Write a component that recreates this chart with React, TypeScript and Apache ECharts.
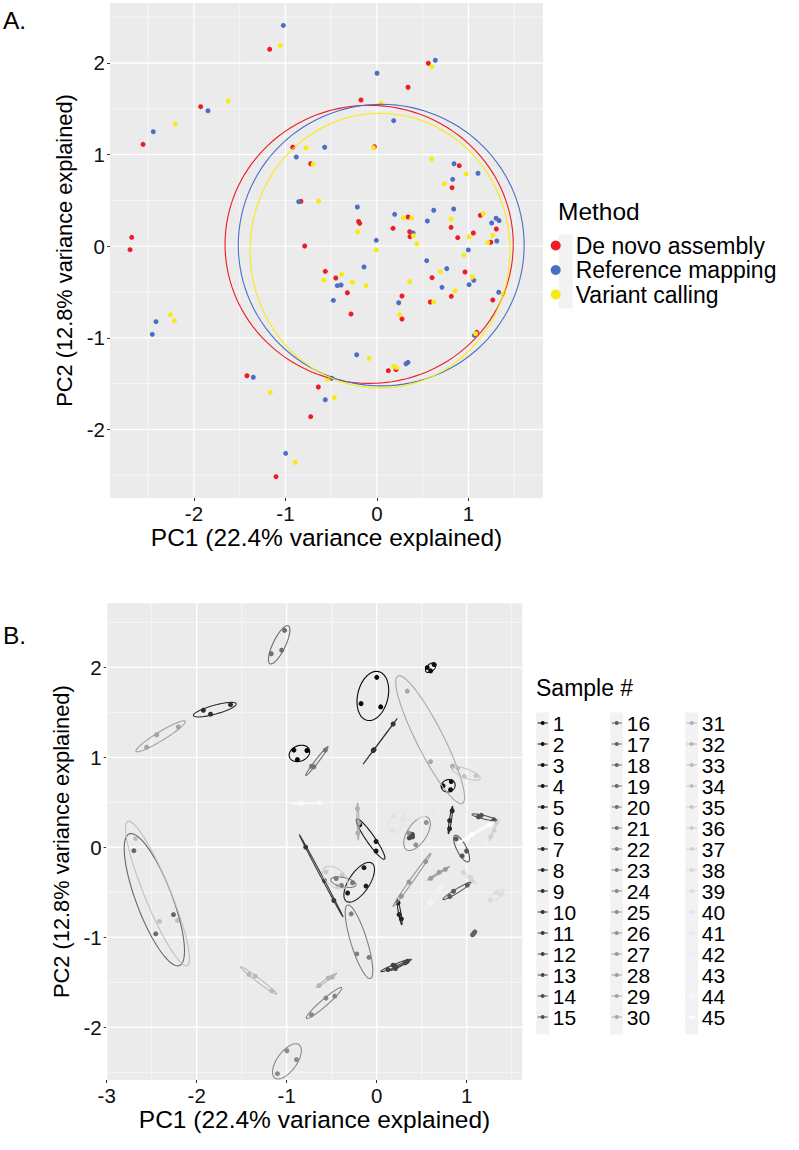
import React, { useEffect, useRef } from "react";
import * as echarts from "echarts";

const FONT = "'Liberation Sans', Arial, Helvetica, sans-serif";

// Method names and colours (panel A)
const methods = ["De novo assembly", "Reference mapping", "Variant calling"];
const methodColors = ["#EE1C25", "#4C6EC5", "#F6EB14"];

// Sample ids (panel B)
const sampleIds = [
  "1", "2", "3", "4", "5", "6", "7", "8", "9", "10", "11", "12", "13", "14", "15",
  "16", "17", "18", "19", "20", "21", "22", "23", "24", "25", "26", "27", "28", "29", "30",
  "31", "32", "33", "34", "35", "36", "37", "38", "39", "40", "41", "42", "43", "44", "45",
];

// PC1 / PC2 scores per sample, one list per method (index = sample - 1)
const deNovo = [
  [-0.92, 1.08], [-0.174, 1.596], [0.562, 1.997], [0.821, 0.639], [-0.188, 0.25],
  [-0.323, -0.508], [0.274, -0.795], [0.81, 0.206], [-1.926, 1.523], [-0.028, 1.086],
  [-0.789, 0.002], [0.125, -1.359], [0.209, -1.348], [0.362, 0.104], [1.13, 0.337],
  [0.883, 0.093], [0.813, -0.547], [1.091, -0.94], [-2.698, -0.038], [-1.172, 2.15],
  [-0.724, 0.9], [-0.45, -0.347], [-0.283, -0.74], [-0.724, -1.861], [-1.103, -2.516],
  [0.358, 0.158], [0.274, -0.544], [0.602, -0.344], [-2.556, 1.112], [0.34, 1.735],
  [-0.2, 0.27], [-0.64, -1.537], [-1.42, -1.414], [-2.68, 0.097], [0.9, 0.879],
  [-0.564, -0.274], [1.305, 0.188], [0.963, -0.282], [1.266, -0.587], [0.176, 0.195],
  [0.34, 0.319], [1.244, 0.043], [0.584, -0.609], [-0.83, 0.49], [1.054, 0.144],
];
const refMap = [
  [-0.881, 0.974], [0.001, 1.888], [0.638, 2.03], [0.828, 0.73], [-0.007, 0.064],
  [-0.141, -0.227], [0.238, -0.617], [0.839, 0.406], [-1.846, 1.479], [0.183, 1.37],
  [-0.476, -0.591], [0.34, -1.268], [0.318, -1.283], [0.395, 0.144], [1.302, 0.305],
  [0.999, -0.041], [1.007, -0.42], [1.065, -0.973], [-2.455, -0.962], [-1.023, 2.41],
  [-0.571, 1.08], [-0.392, -0.424], [-0.221, -1.185], [-0.564, -1.676], [-0.997, -2.261],
  [0.551, 0.275], [0.544, -0.158], [0.763, -0.245], [-2.444, 1.25], [0.843, 0.9],
  [-0.214, 0.428], [-0.494, -1.442], [-1.351, -1.431], [-2.414, -0.824], [1.105, 0.796],
  [-0.433, -0.431], [1.335, 0.279], [1.058, -0.372], [1.331, -0.503], [0.194, 0.348],
  [0.621, 0.392], [1.31, 0.057], [0.711, -0.449], [-0.855, 0.486], [1.254, 0.253],
];
const varCall = [
  [-0.775, 1.075], [0.045, 1.56], [0.599, 1.96], [0.737, 0.682], [-0.007, -0.041],
  [-0.119, -0.431], [0.249, -0.748], [0.81, 0.297], [-1.624, 1.585], [-0.039, 1.075],
  [-0.581, -0.37], [0.183, -1.311], [0.216, -1.326], [0.398, 0.115], [1.163, 0.355],
  [0.949, -0.096], [0.854, -0.489], [1.08, -0.955], [-2.258, -0.748], [-1.056, 2.19],
  [-0.698, 0.894], [-0.269, -0.394], [-0.086, -1.224], [-0.466, -1.654], [-0.892, -2.359],
  [0.435, 0.027], [0.358, -0.387], [0.693, -0.278], [-2.203, 1.337], [0.599, 0.952],
  [-0.21, 0.158], [-0.538, -1.453], [-1.165, -1.595], [-2.214, -0.813], [0.974, 0.788],
  [-0.385, -0.307], [1.266, 0.119], [1.043, -0.336], [1.382, -0.522], [0.289, 0.311],
  [0.38, 0.305], [1.211, 0.043], [0.62, -0.609], [-0.636, 0.493], [1.007, 0.1],
];
const methodScores = [deNovo, refMap, varCall];

// Panel A method ellipses (centre x, centre y, radius x, radius y)
const ellCx = [-0.085, 0.047, 0.034];
const ellCy = [0.02, 0.012, -0.049];
const ellRx = [1.575, 1.562, 1.421];
const ellRy = [1.518, 1.537, 1.5];

// Axis ticks and grid lines
const xTicksA = [-2, -1, 0, 1];
const xTicksB = [-3, -2, -1, 0, 1];
const yTicks = [-2, -1, 0, 1, 2];
const xMinor = [-2.5, -1.5, -0.5, 0.5, 1.5];
const yMinor = [-2.5, -1.5, -0.5, 0.5, 1.5, 2.5];

const ELLIPSE_K = 1.52;

function grayOf(i: number) {
  const v = Math.round((i / 44) * 255);
  return `rgb(${v},${v},${v})`;
}

function ellipseFromPoints(pts: number[][], k: number) {
  const n = pts.length;
  let mx = 0, my = 0;
  pts.forEach((p) => { mx += p[0]; my += p[1]; });
  mx /= n; my /= n;
  let sxx = 0, syy = 0, sxy = 0;
  pts.forEach((p) => {
    const dx = p[0] - mx, dy = p[1] - my;
    sxx += dx * dx; syy += dy * dy; sxy += dx * dy;
  });
  sxx /= n - 1; syy /= n - 1; sxy /= n - 1;
  const tr = sxx + syy, det = sxx * syy - sxy * sxy;
  const disc = Math.sqrt(Math.max(0, (tr * tr) / 4 - det));
  const l1 = tr / 2 + disc, l2 = Math.max(0, tr / 2 - disc);
  let vx: number, vy: number;
  if (Math.abs(sxy) > 1e-12) { vx = l1 - syy; vy = sxy; }
  else if (sxx >= syy) { vx = 1; vy = 0; } else { vx = 0; vy = 1; }
  const nn = Math.hypot(vx, vy); vx /= nn; vy /= nn;
  const out: number[][] = [];
  for (let j = 0; j <= 90; j++) {
    const t = (2 * Math.PI * j) / 90;
    const a = k * Math.sqrt(l1) * Math.cos(t);
    const b = k * Math.sqrt(l2) * Math.sin(t);
    out.push([mx + a * vx - b * vy, my + a * vy + b * vx]);
  }
  return out;
}

function gridLineSeries(gridIdx: number, xMajor: number[]) {
  const data: number[][] = [];
  xMajor.forEach((v) => data.push([v, 0]));
  xMinor.forEach((v) => data.push([v, 1]));
  yTicks.forEach((v) => data.push([v, 2]));
  yMinor.forEach((v) => data.push([v, 3]));
  return {
    type: "custom",
    xAxisIndex: gridIdx,
    yAxisIndex: gridIdx,
    silent: true,
    z: 1,
    clip: false,
    dimensions: ["v", "kind"],
    data,
    renderItem: (params: any, api: any) => {
      const cs = params.coordSys;
      const v = api.value(0);
      const kind = api.value(1);
      const major = kind === 0 || kind === 2;
      const style = { stroke: "#FFFFFF", lineWidth: major ? 1.3 : 0.6 };
      if (kind < 2) {
        const x = api.coord([v, 0])[0];
        if (x < cs.x - 0.5 || x > cs.x + cs.width + 0.5) return null;
        return { type: "line", shape: { x1: x, y1: cs.y, x2: x, y2: cs.y + cs.height }, style };
      }
      const y = api.coord([0, v])[1];
      if (y < cs.y - 0.5 || y > cs.y + cs.height + 0.5) return null;
      return { type: "line", shape: { x1: cs.x, y1: y, x2: cs.x + cs.width, y2: y }, style };
    },
  };
}

function makeAxis(gridIndex: number, min: number, max: number, ticks: number[], name: string, isX: boolean) {
  return {
    type: "value",
    gridIndex,
    min,
    max,
    name,
    nameLocation: "middle",
    nameGap: isX ? 25 : 27,
    nameTextStyle: { fontSize: isX ? 24.5 : 21.8, color: "#000", fontFamily: FONT },
    axisLine: { show: false, onZero: false },
    axisTick: { show: true, length: 3, lineStyle: { color: "#333", width: 1 }, customValues: ticks },
    axisLabel: { customValues: ticks, fontSize: 20.5, color: "#111", margin: 5, fontFamily: FONT },
    splitLine: { show: false },
    minorSplitLine: { show: false },
  };
}

const B_ICON = "path://M0,4.6H10V5.4H0Z M7,5A2,2,0,1,1,3,5A2,2,0,1,1,7,5Z";

export default function App() {
  const ref = useRef<HTMLDivElement>(null);
  useEffect(() => {
    if (!ref.current) return;
    const chart = echarts.init(ref.current, undefined, { renderer: "svg" });

    const series: any[] = [];
    series.push(gridLineSeries(0, xTicksA));
    series.push(gridLineSeries(1, xTicksB));

    // Panel A points
    methods.forEach((m, i) => {
      series.push({
        type: "scatter",
        name: m,
        xAxisIndex: 0,
        yAxisIndex: 0,
        data: methodScores[i],
        symbolSize: 5,
        itemStyle: { color: methodColors[i], opacity: 1 },
        z: 3,
        clip: true,
      });
    });
    // Panel A ellipses
    series.push({
      type: "custom",
      xAxisIndex: 0,
      yAxisIndex: 0,
      silent: true,
      z: 4,
      clip: true,
      data: methods.map((_, i) => [ellCx[i], ellCy[i], ellRx[i], ellRy[i], i]),
      renderItem: (params: any, api: any) => {
        const cx = api.value(0), cy = api.value(1), rx = api.value(2), ry = api.value(3);
        const idx = api.value(4);
        const pts: number[][] = [];
        for (let j = 0; j <= 120; j++) {
          const t = (2 * Math.PI * j) / 120;
          pts.push(api.coord([cx + rx * Math.cos(t), cy + ry * Math.sin(t)]));
        }
        return { type: "polyline", shape: { points: pts }, style: { stroke: methodColors[idx], lineWidth: 1.1, fill: null } };
      },
    });

    // Panel B points, one series per sample
    sampleIds.forEach((s, i) => {
      series.push({
        type: "scatter",
        name: s,
        xAxisIndex: 1,
        yAxisIndex: 1,
        data: [deNovo[i], refMap[i], varCall[i]],
        symbolSize: 5,
        itemStyle: { color: grayOf(i), opacity: 1 },
        z: 3,
        clip: true,
      });
    });
    // Panel B ellipses computed from each sample's three points
    series.push({
      type: "custom",
      xAxisIndex: 1,
      yAxisIndex: 1,
      silent: true,
      z: 4,
      clip: true,
      data: sampleIds.map((_, i) => [deNovo[i][0], deNovo[i][1], i]),
      renderItem: (params: any, api: any) => {
        const i = api.value(2);
        const pts = ellipseFromPoints([deNovo[i], refMap[i], varCall[i]], ELLIPSE_K).map((p) => api.coord(p));
        return { type: "polyline", shape: { points: pts }, style: { stroke: grayOf(i), lineWidth: 1.1, fill: null } };
      },
    });

    const legendB = (names: string[], left: number) => ({
      show: true,
      orient: "vertical",
      left,
      top: 712.5,
      padding: 0,
      itemGap: 0,
      itemWidth: 10,
      itemHeight: 10,
      selectedMode: false,
      icon: B_ICON,
      data: names,
      textStyle: { fontSize: 21, color: "#000", fontFamily: FONT },
    });

    const keyBg = (x: number, y: number, w: number, h: number) => ({
      type: "rect",
      z: -1,
      silent: true,
      shape: { x, y, width: w, height: h },
      style: { fill: "#F2F2F2" },
    });

    const option: any = {
      animation: false,
      backgroundColor: "#FFFFFF",
      textStyle: { fontFamily: FONT },
      grid: [
        { left: 110, top: 3, width: 433, height: 495, show: true, backgroundColor: "#EBEBEB", borderWidth: 0, outerBoundsMode: "none" },
        { left: 106.7, top: 603.3, width: 415.6, height: 476.7, show: true, backgroundColor: "#EBEBEB", borderWidth: 0, outerBoundsMode: "none" },
      ],
      xAxis: [
        makeAxis(0, -2.917, 1.815, xTicksA, "PC1 (22.4% variance explained)", true),
        makeAxis(1, -3, 1.618, xTicksB, "PC1 (22.4% variance explained)", true),
      ],
      yAxis: [
        makeAxis(0, -2.749, 2.655, yTicks, "PC2 (12.8% variance explained)", false),
        makeAxis(1, -2.586, 2.711, yTicks, "PC2 (12.8% variance explained)", false),
      ],
      legend: [
        {
          show: true,
          orient: "vertical",
          left: 550.7,
          top: 234,
          padding: 0,
          itemGap: 1.5,
          itemWidth: 30,
          itemHeight: 10,
          icon: "circle",
          selectedMode: false,
          data: methods,
          textStyle: { fontSize: 23, color: "#000", fontFamily: FONT },
        },
        legendB(sampleIds.slice(0, 15), 537.7),
        legendB(sampleIds.slice(15, 30), 611.7),
        legendB(sampleIds.slice(30, 45), 686.7),
      ],
      graphic: [
        keyBg(558.7, 234.5, 14, 74),
        keyBg(536.2, 712.5, 13, 322),
        keyBg(610.2, 712.5, 13, 322),
        keyBg(685.2, 712.5, 13, 322),
        { type: "text", x: 3, y: 20, style: { text: "A.", fontSize: 24.5, fill: "#000", fontFamily: FONT, verticalAlign: "middle" } },
        { type: "text", x: 3, y: 635, style: { text: "B.", fontSize: 24.5, fill: "#000", fontFamily: FONT, verticalAlign: "middle" } },
        { type: "text", x: 558, y: 211.7, style: { text: "Method", fontSize: 24.5, fill: "#000", fontFamily: FONT, verticalAlign: "middle" } },
        { type: "text", x: 536, y: 688, style: { text: "Sample #", fontSize: 23, fill: "#000", fontFamily: FONT, verticalAlign: "middle" } },
      ],
      series,
    };
    chart.setOption(option);
    return () => chart.dispose();
  }, []);
  return <div ref={ref} style={{ position: "absolute", left: 0, top: 0, width: 799, height: 1150 }} />;
}
